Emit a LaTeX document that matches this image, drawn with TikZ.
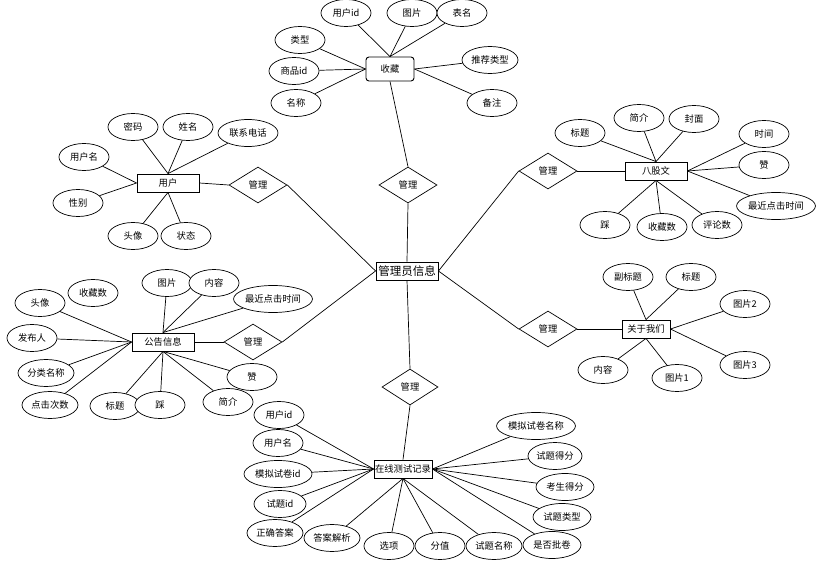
\documentclass[tikz,border=0pt]{standalone}
\usepackage{fontspec}
\setmainfont{Noto Sans CJK SC}
\usetikzlibrary{shapes.geometric}
\begin{document}
\begin{tikzpicture}[x=1pt,y=-1pt,
  every node/.style={font=\fontsize{9.3}{10}\selectfont},
  attr/.style={ellipse,draw,fill=white,line width=0.7pt,minimum width=50pt,minimum height=27pt,inner sep=0pt},
  ent/.style={rectangle,draw,fill=white,line width=0.9pt,minimum width=62pt,minimum height=18pt,inner sep=0pt},
  rel/.style={diamond,draw,fill=white,line width=0.7pt,minimum width=58pt,minimum height=36pt,inner sep=0pt},
  lnk/.style={line width=0.7pt}]
\useasboundingbox (0,0) rectangle (820,567);
% central
\node[ent,minimum width=62pt,font=\fontsize{11.5}{12}\selectfont] (adm) at (407,271) {管理员信息};
% 收藏
\node[draw,fill=white,rounded corners=3pt,line width=0.9pt,minimum width=48pt,minimum height=24pt,inner sep=0pt] (sc) at (390,69) {收藏};
\node[attr] (sc1) at (346,13) {用户id};
\node[attr] (sc2) at (412,13) {图片};
\node[attr] (sc3) at (462,13) {表名};
\node[attr] (sc4) at (300,40) {类型};
\node[attr] (sc5) at (294,71) {商品id};
\node[attr] (sc6) at (296,103) {名称};
\node[attr,minimum width=56pt] (sc7) at (490,60) {推荐类型};
\node[attr] (sc8) at (492,103) {备注};
\node[rel] (r0) at (408,185) {管理};
\foreach \a in {sc1,sc2,sc3} \draw[lnk] (\a) -- (sc.north);
\foreach \a in {sc4,sc5,sc6} \draw[lnk] (\a) -- (sc.west);
\foreach \a in {sc7,sc8} \draw[lnk] (\a) -- (sc.east);
\draw[lnk] (sc.south) -- (r0.north);
\draw[lnk] (r0.south) -- (adm.north);
% 用户
\node[ent] (yh) at (168,183) {用户};
\node[attr] (yh1) at (133,127) {密码};
\node[attr] (yh2) at (188,127) {姓名};
\node[attr,minimum width=60pt] (yh3) at (248,133) {联系电话};
\node[attr] (yh4) at (84,157) {用户名};
\node[attr] (yh5) at (78,203) {性别};
\node[attr] (yh6) at (133,236) {头像};
\node[attr] (yh7) at (186,236) {状态};
\node[rel] (r1) at (258,185) {管理};
\foreach \a in {yh1,yh2,yh3} \draw[lnk] (\a) -- (yh.north);
\foreach \a in {yh4,yh5} \draw[lnk] (\a) -- (yh.west);
\foreach \a in {yh6,yh7} \draw[lnk] (\a) -- (yh.south);
\draw[lnk] (yh.east) -- (r1.west);
\draw[lnk] (r1.east) -- (adm.west);
% 八股文
\node[ent] (bg) at (656,171) {八股文};
\node[attr] (bg1) at (580,133) {标题};
\node[attr] (bg2) at (639,118) {简介};
\node[attr] (bg3) at (694,119) {封面};
\node[attr] (bg4) at (764,134) {时间};
\node[attr] (bg5) at (764,165) {赞};
\node[attr,minimum width=74pt] (bg6) at (776,206) {最近点击时间};
\node[attr] (bg7) at (605,225) {踩};
\node[attr] (bg8) at (662,227) {收藏数};
\node[attr] (bg9) at (717,225) {评论数};
\node[rel] (r2) at (548,171) {管理};
\foreach \a in {bg1,bg2,bg3} \draw[lnk] (\a) -- (bg.north);
\foreach \a in {bg7,bg8,bg9} \draw[lnk] (\a) -- (bg.south);
\foreach \a in {bg4,bg5,bg6} \draw[lnk] (\a) -- (bg.east);
\draw[lnk] (bg.west) -- (r2.east);
\draw[lnk] (r2.west) -- (adm.east);
% 关于我们
\node[ent,minimum width=48pt] (gy) at (646,329) {关于我们};
\node[attr] (gy1) at (628,277) {副标题};
\node[attr] (gy2) at (691,277) {标题};
\node[attr] (gy3) at (745,304) {图片2};
\node[attr] (gy4) at (745,365) {图片3};
\node[attr] (gy5) at (603,370) {内容};
\node[attr] (gy6) at (677,378) {图片1};
\node[rel] (r3) at (548,329) {管理};
\foreach \a in {gy1,gy2} \draw[lnk] (\a) -- (gy.north);
\foreach \a in {gy5,gy6} \draw[lnk] (\a) -- (gy.south);
\foreach \a in {gy3,gy4} \draw[lnk] (\a) -- (gy.east);
\draw[lnk] (gy.west) -- (r3.east);
\draw[lnk] (r3.west) -- (adm.east);
% 公告信息
\node[ent] (gg) at (163,342) {公告信息};
\node[attr] (gg1) at (40,303) {头像};
\node[attr] (gg2) at (93,293) {收藏数};
\node[attr] (gg3) at (167,283) {图片};
\node[attr] (gg4) at (214,283) {内容};
\node[attr,minimum width=74pt] (gg5) at (273,299) {最近点击时间};
\node[attr] (gg6) at (32,338) {发布人};
\node[attr,minimum width=56pt] (gg7) at (46,373) {分类名称};
\node[attr,minimum width=56pt] (gg8) at (50,405) {点击次数};
\node[attr] (gg9) at (115,406) {标题};
\node[attr] (gg10) at (160,405) {踩};
\node[attr] (gg11) at (228,402) {简介};
\node[attr] (gg12) at (252,377) {赞};
\node[rel] (r4) at (253,342) {管理};
\foreach \a in {gg1,gg6,gg7,gg8} \draw[lnk] (\a) -- (gg.west);
\foreach \a in {gg3,gg4,gg5} \draw[lnk] (\a) -- (gg.north);
\foreach \a in {gg9,gg10,gg11,gg12} \draw[lnk] (\a) -- (gg.south);
\draw[lnk] (gg.east) -- (r4.west);
\draw[lnk] (r4.east) -- (adm.west);
% 在线测试记录
\node[ent,minimum width=58pt] (zx) at (403,469) {在线测试记录};
\node[rel,minimum width=56pt] (r5) at (410,387) {管理};
\draw[lnk] (adm.south) -- (r5.north);
\draw[lnk] (r5.south) -- (zx.north);
\node[attr] (zx1) at (279,415) {用户id};
\node[attr] (zx2) at (278,443) {用户名};
\node[attr,minimum width=68pt] (zx3) at (278,474) {模拟试卷id};
\node[attr,minimum width=52pt] (zx4) at (280,504) {试题id};
\node[attr,minimum width=56pt] (zx5) at (275,533) {正确答案};
\node[attr,minimum width=56pt] (zx6) at (332,538) {答案解析};
\node[attr] (zx7) at (389,546) {选项};
\node[attr] (zx8) at (440,546) {分值};
\node[attr,minimum width=56pt] (zx9) at (494,546) {试题名称};
\node[attr,minimum width=58pt] (zx10) at (552,545) {是否批卷};
\node[attr,minimum width=58pt] (zx11) at (562,517) {试题类型};
\node[attr,minimum width=58pt] (zx12) at (565,487) {考生得分};
\node[attr,minimum width=54pt] (zx13) at (555,456) {试题得分};
\node[attr,minimum width=76pt] (zx14) at (536,426) {模拟试卷名称};
\foreach \a in {zx1,zx2,zx3,zx4,zx5} \draw[lnk] (\a) -- (zx.west);
\foreach \a in {zx6,zx7,zx8,zx9} \draw[lnk] (\a) -- (zx.south);
\foreach \a in {zx10,zx11,zx12,zx13,zx14} \draw[lnk] (\a) -- (zx.east);
\end{tikzpicture}
\end{document}
